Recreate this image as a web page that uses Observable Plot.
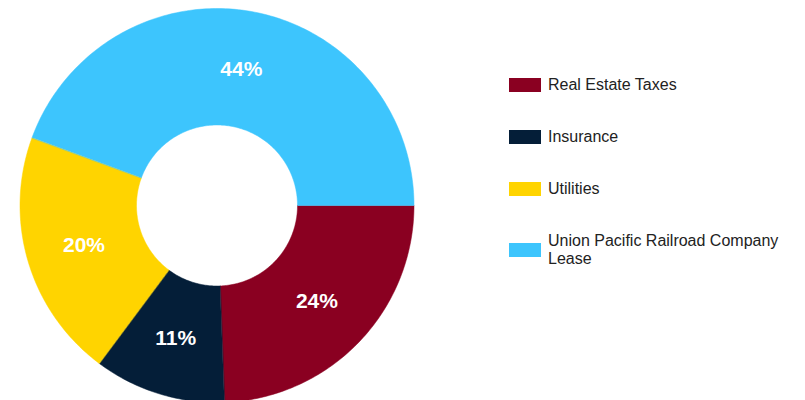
<!DOCTYPE html>
<html>
<head>
<meta charset="utf-8">
<script src="https://cdn.jsdelivr.net/npm/d3@7"></script>
<script src="https://cdn.jsdelivr.net/npm/@observablehq/plot@0.6"></script>
<style>
  html, body { margin: 0; padding: 0; background: #fff; }
  #wrap { position: relative; width: 805px; height: 400px; overflow: hidden; font-family: "Liberation Sans", Arial, sans-serif; }
  #legend { position: absolute; left: 509px; top: 0; }
  .item { position: absolute; left: 0; width: 296px; display: flex; align-items: center; }
  .sw { width: 32px; height: 14px; flex: none; }
  .lab { margin-left: 7px; font-size: 16px; line-height: 18px; color: #222; }
</style>
</head>
<body>
<div id="wrap"><div id="legend"></div></div>
<script>
const categories = ["Real Estate Taxes", "Insurance", "Utilities", "Union Pacific Railroad Company Lease"];
const values = [24.4, 10.8, 20.4, 44.4];
const labels = ["24%", "11%", "20%", "44%"];
const colors = ["#8a0021", "#041e38", "#ffd400", "#3dc5fd"];

const R = 197, r0 = 80.5;
const total = d3.sum(values);
// angles measured clockwise from 3 o'clock, in radians
let acc = 0;
const slices = categories.map((c, i) => {
  const a0 = acc / total * 2 * Math.PI;
  acc += values[i];
  const a1 = acc / total * 2 * Math.PI;
  return {category: c, a0, a1, label: labels[i]};
});
const pts = [];
for (const s of slices) {
  const n = Math.max(8, Math.ceil((s.a1 - s.a0) * 60));
  for (let k = 0; k <= n; k++) {
    const a = s.a0 + (s.a1 - s.a0) * k / n;
    pts.push({category: s.category, x: R * Math.cos(a), y: -R * Math.sin(a)});
  }
  for (let k = n; k >= 0; k--) {
    const a = s.a0 + (s.a1 - s.a0) * k / n;
    pts.push({category: s.category, x: r0 * Math.cos(a), y: -r0 * Math.sin(a)});
  }
}
const lr = (R + r0) / 2;
const labelPts = slices.map(s => {
  const a = (s.a0 + s.a1) / 2;
  return {label: s.label, x: lr * Math.cos(a), y: -lr * Math.sin(a)};
});

const cx = 216.5, cy = 205;
const chart = Plot.plot({
  width: 805, height: 400,
  marginTop: 0, marginBottom: 0, marginLeft: 0, marginRight: 0,
  x: {domain: [-cx, 805 - cx], axis: null},
  y: {domain: [cy - 400, cy], axis: null},
  color: {domain: categories, range: colors},
  style: {fontFamily: "'Liberation Sans', Arial, sans-serif", background: "transparent"},
  marks: [
    Plot.line(pts, {x: "x", y: "y", z: "category", fill: "category", stroke: "category", strokeWidth: 0.5, curve: "linear-closed"}),
    Plot.text(labelPts, {x: "x", y: "y", text: "label", fill: "white", fontSize: 21, fontWeight: "bold"})
  ]
});
const wrap = document.getElementById("wrap");
wrap.insertBefore(chart, wrap.firstChild);

const legend = document.getElementById("legend");
const centers = [85, 137, 189, 250];
categories.forEach((c, i) => {
  const it = document.createElement("div");
  it.className = "item";
  const h = i === 3 ? 36 : 18;
  it.style.top = (centers[i] - h / 2) + "px";
  it.style.height = h + "px";
  const sw = document.createElement("div");
  sw.className = "sw";
  sw.style.background = colors[i];
  const lab = document.createElement("div");
  lab.className = "lab";
  lab.textContent = c;
  if (i === 3) lab.style.width = "250px";
  it.appendChild(sw); it.appendChild(lab);
  legend.appendChild(it);
});
</script>
</body>
</html>
